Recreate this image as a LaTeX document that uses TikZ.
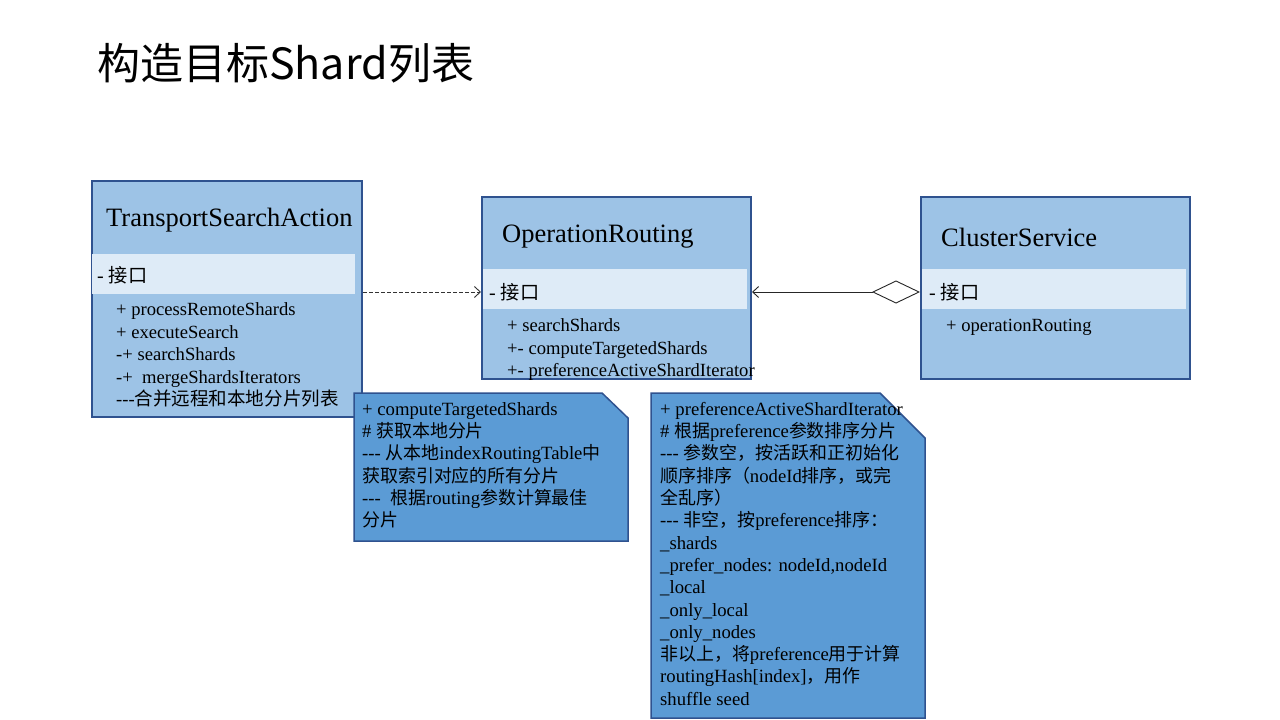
\documentclass[tikz,border=0pt]{standalone}
\usepackage{fontspec}
\setmainfont{Liberation Serif}
\newfontfamily\cjk[Scale=0.96]{Noto Sans CJK SC}
\newfontfamily\cjktitle{Noto Sans CJK SC}
\usetikzlibrary{arrows.meta}
\newcommand{\zh}[1]{{\cjk #1}}
\definecolor{boxfill}{RGB}{157,195,230}
\definecolor{bandfill}{RGB}{222,235,247}
\definecolor{boxline}{RGB}{47,82,143}
\definecolor{notefill}{RGB}{91,155,213}
\tikzset{
  umlbox/.style={draw=boxline, line width=2pt, fill=boxfill, anchor=north west, inner sep=0pt},
  bandbox/.style={fill=bandfill, anchor=north west, inner sep=0pt, minimum height=40pt},
  classtitle/.style={anchor=west, inner sep=0pt, font=\fontsize{26.5}{30}\selectfont},
  bandtext/.style={anchor=west, inner sep=0pt, font=\fontsize{20}{24}\selectfont},
  members/.style={anchor=north west, inner sep=0pt, align=left, font=\fontsize{18.6}{22.5}\selectfont},
  notetext/.style={anchor=north west, inner sep=0pt, align=left, font=\fontsize{18.7}{22.3}\selectfont},
  notebox/.style={draw=boxline, line width=1.5pt, fill=notefill},
  dep/.style={draw=black!80, line width=0.9pt, dash pattern=on 3.5pt off 2.5pt, -{Straight Barb[length=6pt,width=11pt]}},
  agg/.style={draw=black!85, line width=0.9pt, {Diamond[open,length=48pt,width=23pt,fill=white]}-{Straight Barb[length=6pt,width=11pt]}}
}
\begin{document}
\begin{tikzpicture}[x=1pt,y=-1pt]
\useasboundingbox (0,0) rectangle (1280,720);
\fill[white] (0,0) rectangle (1280,720);

% page title
\node[anchor=west, inner sep=0pt, font=\cjktitle\fontsize{43}{48}\selectfont] (title) at (97,63) {构造目标Shard列表};

% TransportSearchAction
\node[umlbox, minimum width=270pt, minimum height=236pt] (tsa) at (91,180) {};
\node[bandbox, minimum width=263pt] (tsaband) at (92,254) {};
\node[classtitle] (tsatitle) at (106,220) {TransportSearchAction};
\node[bandtext] (tsabandtext) at (97,275) {- \zh{接口}};
\node[members] (tsamembers) at (116,302.5) {+ processRemoteShards\\+ executeSearch\\-+ searchShards\\-+\ \ mergeShardsIterators\\-{}-{}-{\fontsize{19.3}{22.5}\selectfont\zh{合并远程和本地分片列表}}};

% OperationRouting
\node[umlbox, minimum width=269pt, minimum height=182pt] (or) at (481,196) {};
\node[bandbox, minimum width=264pt] (orband) at (483,269) {};
\node[classtitle] (ortitle) at (502,237) {OperationRouting};
\node[bandtext] (orbandtext) at (489,292) {- \zh{接口}};
\node[members] (ormembers) at (507,318.5) {+ searchShards\\+- computeTargetedShards\\+- preferenceActiveShardIterator};

% ClusterService
\node[umlbox, minimum width=269pt, minimum height=182pt] (cs) at (920,196) {};
\node[bandbox, minimum width=264pt] (csband) at (922,269) {};
\node[classtitle] (cstitle) at (941,237) {ClusterService};
\node[bandtext] (csbandtext) at (929,292) {- \zh{接口}};
\node[members] (csmembers) at (946,318.5) {+ operationRouting};

% note 1
\path[notebox] (354,393) -- (602,393) -- (628,418) -- (628,541) -- (354,541) -- cycle;
\node[notetext] (note1) at (362,402) {+ computeTargetedShards\\
\# \zh{获取本地分片}\\
-{}-{}- \zh{从本地}indexRoutingTable\zh{中}\\
\zh{获取索引对应的所有分片}\\
-{}-{}-\ \ \zh{根据}routing\zh{参数计算最佳}\\
\zh{分片}};

% note 2
\path[notebox] (651,393) -- (880,393) -- (925,438) -- (925,718) -- (651,718) -- cycle;
\node[notetext] (note2) at (660,402) {+ preferenceActiveShardIterator\\
\# \zh{根据}preference\zh{参数排序分片}\\
-{}-{}- \zh{参数空，按活跃和正初始化}\\
\zh{顺序排序（}nodeId\zh{排序，或完}\\
\zh{全乱序）}\\
-{}-{}- \zh{非空，按}preference\zh{排序：}\\
\_shards\\
\_prefer\_nodes: nodeId,nodeId\\
\_local\\
\_only\_local\\
\_only\_nodes\\
\zh{非以上，将}preference\zh{用于计算}\\
routingHash[index]\zh{，用作}\\
shuffle seed};

% connectors
\coordinate (linky) at (0,292);
\draw[dep] (tsa.east |- linky) -- (or.west |- linky);
\draw[agg] (cs.west |- linky) -- (or.east |- linky);
\end{tikzpicture}
\end{document}
